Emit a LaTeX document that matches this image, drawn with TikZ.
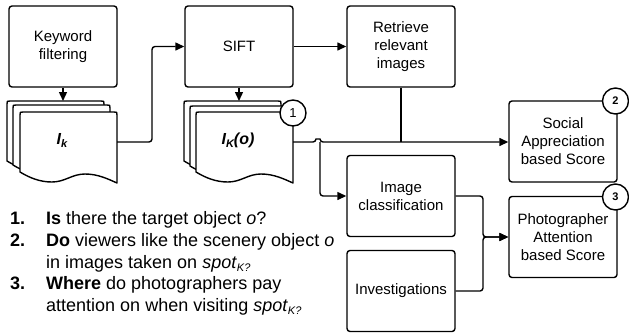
\documentclass[tikz,border=0pt]{standalone}
\usepackage{fontspec}
\setmainfont{Liberation Sans}
\usetikzlibrary{arrows.meta}
\begin{document}
\begin{tikzpicture}[x=1pt,y=-1pt, line join=round,
  every node/.style={inner sep=0pt},
  box/.style={draw, line width=1.4pt, rounded corners=3pt, fill=white, minimum width=108pt, minimum height=81pt, align=center, font=\fontsize{15}{18}\selectfont},
  conn/.style={line width=1.4pt, rounded corners=3pt},
  arr/.style={conn, -{Triangle[length=9pt,width=8pt]}},
  sheet/.style={draw, line width=1.4pt, fill=white},
  num/.style={draw, circle, line width=1.4pt, fill=white, minimum size=26pt},
  qtext/.style={anchor=base west, font=\fontsize{18}{22}\selectfont},
  docpic/.pic={
    \path[sheet] (0,60) -- (0,3) .. controls (0,0) .. (3,0) -- (94,0) .. controls (97,0) .. (97,3) -- (97,71)
      .. controls (88,67) and (78,62) .. (65,62) .. controls (52,62) and (45,70) .. (32,70)
      .. controls (20,70) and (10,66) .. (0,60) -- cycle;
  }
]
\useasboundingbox (0,0) rectangle (629,333);

% boxes
\node[box] (kw)  at (63,46.5)  {Keyword\\filtering};
\node[box] (sift) at (239,46.5) {SIFT};
\node[box] (ret) at (401,46.5) {Retrieve\\relevant\\images};
\node[box] (soc) at (563,141.5) {Social\\Appreciation\\based Score};
\node[box] (pho) at (563,237) {Photographer\\Attention\\based Score};
\node[box] (imc) at (401,196) {Image\\classification};
\node[box] (inv) at (401,291) {Investigations};

% document stacks
\pic at (7,101) {docpic};
\pic at (13,105) {docpic};
\pic at (20,112) {docpic};
\pic at (184,101) {docpic};
\pic at (190,106) {docpic};
\pic at (196,112) {docpic};

\node (iklab) at (62,140) {\fontsize{16}{16}\selectfont\bfseries\itshape I\raisebox{-3pt}{\fontsize{11}{11}\selectfont k}};
\node (ikolab) at (238,140) {\fontsize{16}{16}\selectfont\bfseries\itshape I\raisebox{-3pt}{\fontsize{11}{11}\selectfont K}(o)};

\coordinate (ikin) at (63,101);
\coordinate (ikout) at (117,142);
\coordinate (ikoin) at (239,101);
\coordinate (ikoout) at (293,142);
\coordinate (jn) at (320,142);

% number circles
\node[num, font=\fontsize{13}{13}\selectfont] (c1) at (293,113) {1};
\node[num, font=\fontsize{11}{11}\selectfont\bfseries] (c2) at (615.5,101) {2};
\node[num, font=\fontsize{11}{11}\selectfont\bfseries] (c3) at (615.5,197) {3};

% connectors
\draw[arr] (kw.south) -- (ikin);
\draw[arr] (ikout) -- (152,142) |- (sift.west);
\draw[arr] (sift.east) -- (ret.west);
\draw[arr] (sift.south) -- (ikoin);
\draw[arr] (ikoout) -- (316,142) .. controls (316,139) and (320,139) .. (320,142) -- (soc.west |- ikoout);
\draw[conn] (ret.south) -- (ret.south |- ikoout);
\draw[arr] (jn) |- (imc.west);
\draw[arr] (imc.east) -- (483,196) |- (pho.west);
\draw[arr] (inv.east) -- (483,291) |- (pho.west);

% questions
\node[qtext] (n1) at (10,224.5) {\bfseries 1.};
\node[qtext] (q1) at (46,224.5) {\textbf{Is} there the target object \textit{o}?};
\node[qtext] (n2) at (10,246.3) {\bfseries 2.};
\node[qtext] (q2) at (46,246.3) {\textbf{Do} viewers like the scenery object \textit{o}};
\node[qtext] (q2b) at (46,268) {in images taken on \textit{spot}\raisebox{-3pt}{\fontsize{11}{11}\selectfont\itshape K?}};
\node[qtext] (n3) at (10,289.8) {\bfseries 3.};
\node[qtext] (q3) at (46,289.8) {\textbf{Where} do photographers pay};
\node[qtext] (q3b) at (46,311.6) {attention on when visiting \textit{spot}\raisebox{-3pt}{\fontsize{11}{11}\selectfont\itshape K?}};
\end{tikzpicture}
\end{document}
